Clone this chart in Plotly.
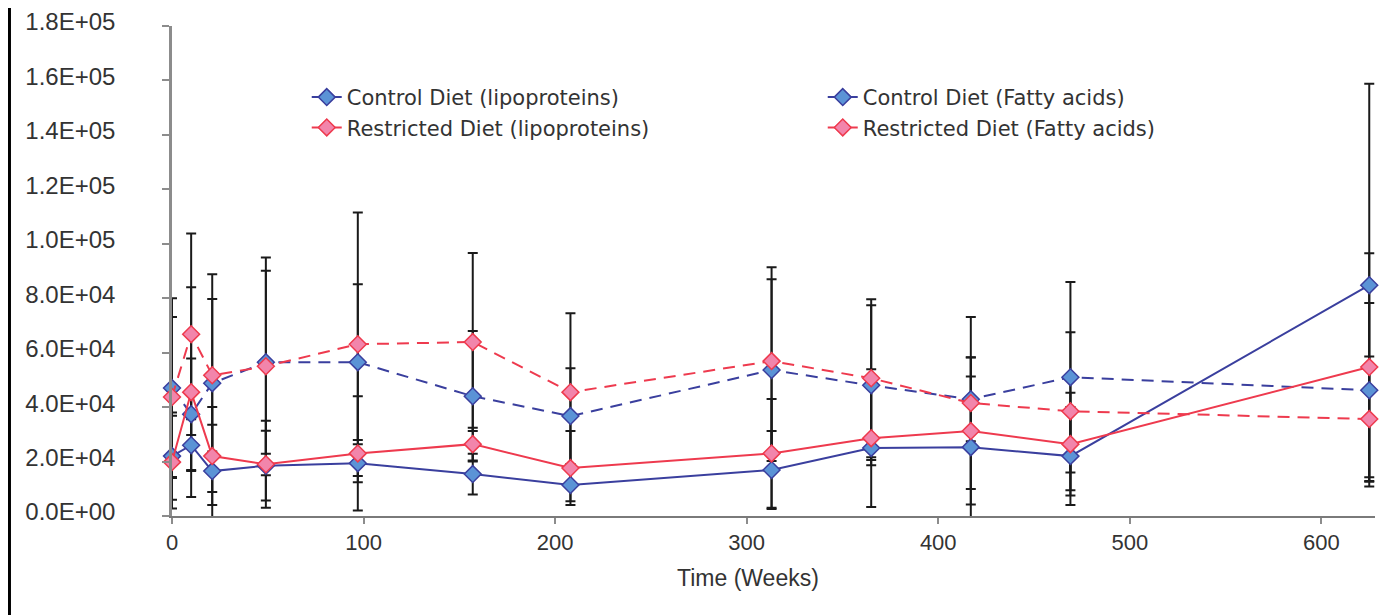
import plotly.graph_objects as go

weeks = [0, 10, 21, 49, 97, 157, 208, 313, 365, 417, 469, 625]

ctrl_lip = [22000, 26000, 16500, 18500, 19400, 15400, 11400, 16900, 25000, 25300, 22000, 84800]
ctrl_lip_err = [16000, 9500, 17000, 12800, 7000, 7500, 6000, 14300, 4400, 25900, 18000, 74000]

rest_lip = [19800, 45500, 22000, 19000, 23000, 26400, 17600, 23000, 28600, 31200, 26400, 54700]
rest_lip_err = [17000, 38500, 18000, 16000, 21000, 6000, 13600, 20000, 25300, 27000, 18900, 41800]

ctrl_fa = [47000, 37400, 48800, 56500, 56500, 44000, 36700, 53600, 48000, 42900, 51000, 46200]
ctrl_fa_err = [33000, 20500, 40000, 33600, 28600, 24000, 17600, 33400, 29400, 15400, 35000, 32000]

rest_fa = [43700, 66800, 51700, 55000, 63100, 63900, 45500, 56900, 50600, 41500, 38500, 35600]
rest_fa_err = [29400, 37000, 28000, 40000, 48400, 32700, 29000, 34500, 29000, 31600, 29000, 23000]

y_tickvals = [0, 20000, 40000, 60000, 80000, 100000, 120000, 140000, 160000, 180000]
y_ticktext = ["0.0E+00", "2.0E+04", "4.0E+04", "6.0E+04", "8.0E+04",
              "1.0E+05", "1.2E+05", "1.4E+05", "1.6E+05", "1.8E+05"]
x_tickvals = [0, 100, 200, 300, 400, 500, 600]
x_title = "Time (Weeks)"

names = ["Control Diet (lipoproteins)", "Control Diet (Fatty acids)",
         "Restricted Diet (lipoproteins)", "Restricted Diet (Fatty acids)"]
series = [ctrl_lip, ctrl_fa, rest_lip, rest_fa]
errs = [ctrl_lip_err, ctrl_fa_err, rest_lip_err, rest_fa_err]

BLUE_LINE = "#3a3f9e"
BLUE_FILL = "#5b93d6"
RED_LINE = "#ee3a4e"
RED_FILL = "#f285ab"
TEXT = "#333333"

styles = [
    dict(lc=BLUE_LINE, fc=BLUE_FILL, dash="solid"),
    dict(lc=BLUE_LINE, fc=BLUE_FILL, dash="12px,8px"),
    dict(lc=RED_LINE, fc=RED_FILL, dash="solid"),
    dict(lc=RED_LINE, fc=RED_FILL, dash="12px,8px"),
]

fig = go.Figure()

# error bars underneath all lines
for vals, err in zip(series, errs):
    fig.add_trace(go.Scatter(
        x=weeks, y=vals, mode="markers",
        marker=dict(size=1, color="rgba(0,0,0,0)"),
        error_y=dict(type="data", array=err, visible=True,
                     color="#1a1a1a", thickness=2, width=5),
        showlegend=False, hoverinfo="skip", cliponaxis=False,
    ))

for name, vals, st in zip(names, series, styles):
    fig.add_trace(go.Scatter(
        x=weeks, y=vals, mode="lines+markers", name=name,
        line=dict(color=st["lc"], width=2, dash=st["dash"]),
        marker=dict(symbol="diamond", size=13, color=st["fc"],
                    line=dict(color=st["lc"], width=1.5)),
        cliponaxis=False,
    ))

# page body has an 8px margin: compensate so the plot area lands at 172..1375 x 26..516
fig.update_layout(
    width=1383, height=607,
    margin=dict(l=164, r=16, t=18, b=99, autoexpand=False),
    paper_bgcolor="white", plot_bgcolor="white",
    showlegend=True,
    legend=dict(
        orientation="h", x=0.112, y=0.896, xanchor="left", yanchor="top",
        entrywidth=471, entrywidthmode="pixels",
        font=dict(family="DejaVu Sans", size=21, color=TEXT),
        bgcolor="rgba(0,0,0,0)", itemwidth=30,
    ),
    shapes=[dict(type="line", xref="paper", yref="paper",
                 x0=-0.1351, x1=-0.1351, y0=-0.25, y1=1.1,
                 line=dict(color="black", width=3))],
    annotations=[dict(text=x_title, xref="paper", yref="paper",
                      x=0.479, y=-0.1265, xanchor="center", yanchor="middle",
                      showarrow=False,
                      font=dict(family="Liberation Sans", size=23, color=TEXT))],
)

fig.update_xaxes(
    range=[0, 628], tickvals=x_tickvals, showgrid=False, zeroline=False,
    automargin=False,
    showline=True, linecolor="#7a7a7a", linewidth=2,
    ticks="outside", ticklen=6, tickcolor="#8c8c8c", tickwidth=2,
    tickfont=dict(family="Liberation Sans", size=22, color=TEXT),
)
fig.update_yaxes(
    range=[0, 180000], tickvals=y_tickvals, ticktext=y_ticktext,
    showgrid=False, zeroline=False, automargin=False,
    showline=True, linecolor="#8c8c8c", linewidth=2.5,
    ticks="outside", ticklen=7, tickcolor="#8c8c8c", tickwidth=2,
    ticklabelstandoff=42, ticklabelshift=-4,
    tickfont=dict(family="Liberation Sans", size=24, color=TEXT),
)

fig.write_html("out.html")
